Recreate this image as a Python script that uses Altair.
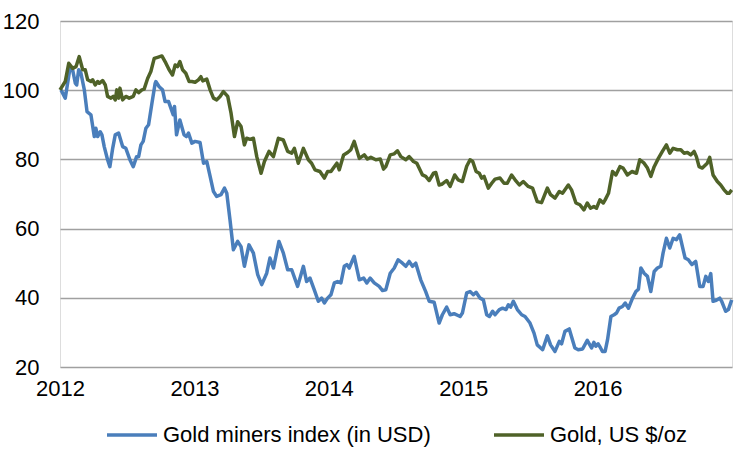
import altair as alt
import pandas as pd

series_names = ["Gold miners index (in USD)", "Gold, US $/oz"]
series_colors = ["#4a7ebb", "#4f6228"]

year_ticks = [2012, 2013, 2014, 2015, 2016]
y_ticks = [20, 40, 60, 80, 100, 120]

miners_t = [2012.007, 2012.039, 2012.074, 2012.094, 2012.114, 2012.124, 2012.139, 2012.156, 2012.181, 2012.201,
            2012.230, 2012.255, 2012.267, 2012.280, 2012.299, 2012.312, 2012.329, 2012.354, 2012.371, 2012.392,
            2012.411, 2012.436, 2012.466, 2012.490, 2012.520, 2012.545, 2012.570, 2012.585, 2012.602, 2012.619,
            2012.639, 2012.659, 2012.684, 2012.708, 2012.713, 2012.738, 2012.763, 2012.782, 2012.808, 2012.825,
            2012.842, 2012.852, 2012.867, 2012.892, 2012.923, 2012.941, 2012.956, 2012.981, 2013.005, 2013.042,
            2013.068, 2013.092, 2013.117, 2013.142, 2013.166, 2013.198, 2013.224, 2013.241, 2013.265, 2013.290,
            2013.322, 2013.347, 2013.372, 2013.406, 2013.439, 2013.471, 2013.501, 2013.538, 2013.562, 2013.588,
            2013.629, 2013.662, 2013.694, 2013.724, 2013.768, 2013.811, 2013.835, 2013.860, 2013.892, 2013.922,
            2013.947, 2013.967, 2013.991, 2014.016, 2014.041, 2014.065, 2014.090, 2014.115, 2014.134, 2014.152,
            2014.189, 2014.227, 2014.259, 2014.283, 2014.308, 2014.338, 2014.375, 2014.400, 2014.424, 2014.457,
            2014.487, 2014.516, 2014.548, 2014.573, 2014.598, 2014.623, 2014.647, 2014.684, 2014.721, 2014.747,
            2014.784, 2014.821, 2014.845, 2014.877, 2014.903, 2014.932, 2014.977, 2014.994, 2015.026, 2015.051,
            2015.076, 2015.096, 2015.126, 2015.150, 2015.175, 2015.195, 2015.219, 2015.237, 2015.269, 2015.293,
            2015.319, 2015.336, 2015.353, 2015.373, 2015.403, 2015.435, 2015.460, 2015.497, 2015.527, 2015.551,
            2015.591, 2015.626, 2015.650, 2015.683, 2015.715, 2015.732, 2015.757, 2015.789, 2015.831, 2015.856,
            2015.888, 2015.923, 2015.955, 2015.972, 2015.987, 2016.004, 2016.022, 2016.036, 2016.056, 2016.074,
            2016.099, 2016.123, 2016.141, 2016.160, 2016.185, 2016.205, 2016.230, 2016.260, 2016.285, 2016.304,
            2016.322, 2016.346, 2016.371, 2016.396, 2016.421, 2016.445, 2016.470, 2016.487, 2016.512, 2016.537,
            2016.562, 2016.586, 2016.611, 2016.631, 2016.651, 2016.675, 2016.701, 2016.730, 2016.760, 2016.785,
            2016.805, 2016.824, 2016.842, 2016.859, 2016.883, 2016.909, 2016.923, 2016.953, 2016.973, 2016.998]
miners_v = [100.1, 97.7, 106.3, 105.9, 102.0, 101.5, 105.9, 104.9, 100.1, 93.8,
            92.9, 86.6, 89.0, 86.6, 88.0, 87.1, 83.7, 79.9, 77.9, 83.2,
            87.1, 87.6, 83.7, 83.2, 79.9, 77.9, 80.8, 80.8, 84.2, 85.2,
            89.0, 90.0, 96.2, 102.0, 102.5, 101.0, 100.1, 96.7, 96.7, 94.8,
            92.9, 95.3, 87.1, 91.4, 87.1, 86.6, 87.6, 84.7, 85.2, 84.9,
            78.9, 79.4, 75.1, 70.7, 69.3, 69.8, 71.7, 70.2, 62.5, 53.9,
            56.3, 54.8, 49.1, 55.3, 52.9, 46.7, 43.8, 47.1, 51.5, 48.6,
            56.3, 52.9, 48.1, 48.1, 43.3, 49.1, 44.7, 45.7, 42.3, 39.0,
            39.9, 38.5, 39.9, 40.9, 44.3, 44.7, 44.3, 49.1, 49.6, 48.6,
            52.0, 45.2, 45.7, 44.3, 45.7, 44.3, 43.3, 42.1, 42.3, 47.1,
            48.6, 51.0, 50.0, 49.1, 50.5, 49.1, 50.0, 45.2, 41.8, 39.0,
            38.7, 32.7, 35.1, 37.3, 35.1, 35.4, 34.6, 35.6, 41.4, 41.8,
            40.9, 41.6, 39.9, 39.4, 35.1, 34.6, 36.1, 35.1, 36.6, 37.0,
            36.6, 38.0, 37.3, 39.0, 36.6, 35.1, 34.6, 32.7, 29.8, 26.4,
            25.0, 29.0, 26.4, 24.5, 27.4, 26.7, 30.3, 31.0, 25.5, 25.0,
            25.2, 27.7, 25.5, 27.1, 26.0, 26.7, 25.5, 24.5, 24.5, 27.9,
            34.6, 35.1, 35.6, 37.0, 37.5, 38.5, 37.0, 39.9, 41.8, 42.5,
            48.6, 47.1, 46.2, 41.8, 47.6, 48.6, 49.1, 52.9, 57.2, 54.4,
            57.2, 56.8, 58.2, 54.8, 51.5, 51.0, 49.6, 50.5, 43.3, 43.3,
            46.2, 44.7, 47.0, 39.0, 39.3, 39.9, 39.0, 36.1, 36.6, 39.4]

gold_t = [2012.000, 2012.039, 2012.065, 2012.094, 2012.119, 2012.143, 2012.169, 2012.188, 2012.206, 2012.230,
          2012.243, 2012.262, 2012.280, 2012.292, 2012.317, 2012.337, 2012.354, 2012.379, 2012.396, 2012.411,
          2012.423, 2012.436, 2012.446, 2012.466, 2012.490, 2012.515, 2012.545, 2012.565, 2012.585, 2012.609,
          2012.626, 2012.652, 2012.676, 2012.701, 2012.726, 2012.758, 2012.788, 2012.812, 2012.837, 2012.857,
          2012.874, 2012.892, 2012.912, 2012.936, 2012.961, 2012.981, 2013.005, 2013.030, 2013.048, 2013.062,
          2013.092, 2013.117, 2013.142, 2013.166, 2013.191, 2013.216, 2013.248, 2013.273, 2013.298, 2013.322,
          2013.347, 2013.372, 2013.389, 2013.414, 2013.439, 2013.464, 2013.496, 2013.521, 2013.555, 2013.588,
          2013.625, 2013.662, 2013.694, 2013.724, 2013.744, 2013.773, 2013.811, 2013.848, 2013.872, 2013.897,
          2013.934, 2013.967, 2013.991, 2014.016, 2014.041, 2014.060, 2014.078, 2014.110, 2014.140, 2014.164,
          2014.189, 2014.227, 2014.264, 2014.288, 2014.313, 2014.350, 2014.383, 2014.407, 2014.424, 2014.457,
          2014.487, 2014.511, 2014.536, 2014.573, 2014.598, 2014.630, 2014.655, 2014.697, 2014.721, 2014.747,
          2014.779, 2014.796, 2014.821, 2014.845, 2014.877, 2014.903, 2014.937, 2014.962, 2014.994, 2015.026,
          2015.051, 2015.071, 2015.096, 2015.120, 2015.137, 2015.155, 2015.187, 2015.212, 2015.237, 2015.274,
          2015.304, 2015.328, 2015.360, 2015.386, 2015.418, 2015.447, 2015.484, 2015.516, 2015.551, 2015.583,
          2015.626, 2015.650, 2015.683, 2015.715, 2015.739, 2015.782, 2015.806, 2015.839, 2015.868, 2015.898,
          2015.923, 2015.947, 2015.972, 2015.992, 2016.017, 2016.042, 2016.056, 2016.081, 2016.111, 2016.136,
          2016.166, 2016.190, 2016.222, 2016.255, 2016.289, 2016.314, 2016.346, 2016.371, 2016.396, 2016.421,
          2016.452, 2016.482, 2016.512, 2016.537, 2016.562, 2016.594, 2016.619, 2016.643, 2016.668, 2016.693,
          2016.718, 2016.735, 2016.755, 2016.779, 2016.816, 2016.834, 2016.859, 2016.891, 2016.916, 2016.941,
          2016.965, 2016.978, 2016.998]
gold_v = [100.1, 102.5, 107.8, 106.3, 106.8, 109.7, 105.9, 105.9, 103.0, 102.5,
          103.0, 101.5, 102.5, 102.0, 102.8, 101.5, 98.2, 97.7, 98.2, 97.2,
          100.1, 97.7, 100.6, 97.2, 98.2, 97.7, 98.2, 100.1, 99.3, 100.1,
          100.3, 103.4, 105.4, 109.2, 109.5, 109.9, 107.8, 105.9, 104.4, 107.3,
          106.8, 108.3, 105.9, 104.9, 102.5, 102.5, 102.3, 103.0, 103.9, 102.7,
          103.2, 100.1, 97.7, 97.2, 98.2, 99.6, 98.2, 93.3, 86.6, 90.9,
          89.5, 84.2, 86.1, 85.8, 86.1, 80.8, 76.0, 79.4, 82.3, 80.8,
          86.1, 85.6, 82.3, 81.8, 83.2, 78.9, 83.2, 79.9, 78.9, 77.0,
          76.5, 74.6, 76.5, 76.5, 77.9, 78.9, 77.0, 81.3, 82.0, 82.8,
          85.2, 80.3, 81.3, 80.1, 80.6, 79.9, 80.1, 77.2, 77.9, 81.3,
          81.6, 82.5, 80.8, 79.9, 80.8, 79.4, 78.9, 75.5, 75.1, 73.9,
          76.0, 76.2, 72.6, 72.9, 73.9, 72.2, 75.5, 74.1, 73.6, 78.0,
          79.9, 79.4, 76.5, 76.0, 74.6, 75.1, 71.7, 73.1, 74.3, 74.6,
          73.1, 73.1, 75.5, 74.1, 72.6, 73.6, 72.2, 71.7, 67.8, 67.5,
          71.7, 69.8, 68.8, 70.7, 70.2, 72.6, 71.2, 67.4, 66.9, 65.4,
          67.4, 65.9, 66.4, 65.9, 68.3, 67.4, 68.3, 70.2, 76.5, 75.5,
          77.9, 77.5, 75.5, 76.5, 76.0, 79.9, 78.9, 77.5, 75.1, 77.9,
          80.3, 82.3, 84.2, 81.8, 83.2, 82.8, 82.8, 81.8, 82.0, 81.3,
          82.3, 80.8, 77.9, 77.5, 78.9, 80.6, 75.5, 73.6, 72.6, 71.2,
          70.2, 70.2, 71.2]

df = pd.concat([
    pd.DataFrame({"t": miners_t, "v": miners_v, "series": series_names[0]}),
    pd.DataFrame({"t": gold_t, "v": gold_v, "series": series_names[1]}),
])

FONT = "Liberation Sans"

chart = alt.Chart(df).mark_line(strokeWidth=3.5, strokeJoin="round").encode(
    x=alt.X("t:Q",
            scale=alt.Scale(domain=[2012, 2017], nice=False, zero=False),
            axis=alt.Axis(values=year_ticks, format="d", title=None, grid=False, ticks=False,
                          domain=False, labelFontSize=22, labelPadding=11, labelColor="black",
                          labelFont=FONT, labelFlush=False, labelOverlap=False)),
    y=alt.Y("v:Q",
            scale=alt.Scale(domain=[20, 120], nice=False, zero=False),
            axis=alt.Axis(values=y_ticks, title=None, grid=True, gridColor="#a0a0a0", gridWidth=1.5,
                          ticks=False, domain=False, labelFontSize=22, labelPadding=21,
                          labelColor="black", labelFont=FONT)),
    color=alt.Color("series:N",
                    scale=alt.Scale(domain=series_names, range=series_colors),
                    legend=alt.Legend(orient="none", legendX=45, legendY=387, direction="horizontal",
                                      title=None, symbolType="stroke", symbolSize=2500,
                                      symbolStrokeWidth=3.5, labelFontSize=22, labelFont=FONT,
                                      labelColor="black", labelOffset=4, columnPadding=56,
                                      labelLimit=0, padding=0)),
    detail="series:N",
).properties(
    width=672,
    height=346,
    autosize=alt.AutoSizeParams(type="none"),
    padding={"left": 60, "top": 21, "right": 4, "bottom": 86},
).configure_view(stroke=None).configure(background="white")

chart.save("out.html", embed_options={"renderer": "svg", "actions": False})
